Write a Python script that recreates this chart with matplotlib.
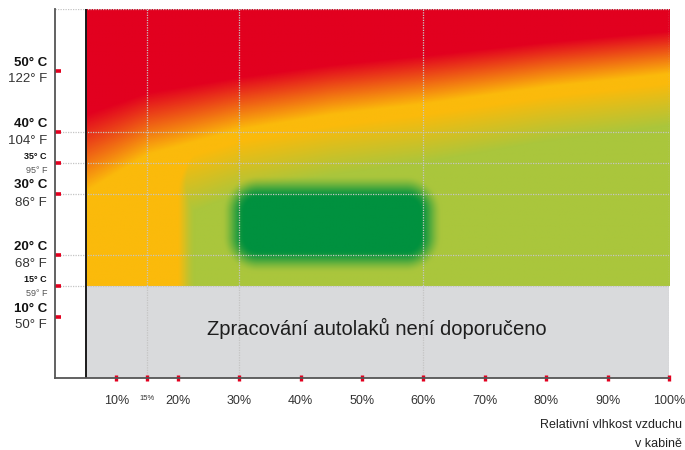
import numpy as np
import matplotlib
matplotlib.use('Agg')
import matplotlib.pyplot as plt
from matplotlib.colors import LinearSegmentedColormap, to_rgb

plt.rcParams['font.family'] = ['Liberation Sans', 'DejaVu Sans']

# --- data ---
temp_c = [10, 15, 20, 30, 35, 40, 50]
temp_f = [50, 59, 68, 86, 95, 104, 122]
small_temps = [15, 35]
rh_ticks = [10, 15, 20, 30, 40, 50, 60, 70, 80, 90, 100]
small_rh = [15]
grid_temps = [15, 20, 30, 35, 40, 60]
grid_rh = [15, 30, 60, 100]

rh_start = 5          # zacatek barevneho pole
min_temp = 15         # pod touto teplotou nedoporuceno
dry_limit = 21        # pod touto vlhkosti zluta zona
ideal_rh = (30, 60)
ideal_temp = (20, 30)

# hranice cervene (cista cervena nad) a zelene (cista zelena pod) zony
curve_rh = [5, 15, 30, 45, 60, 80, 100]
red_temp = [43, 46.5, 49, 51, 52.5, 54.7, 56.5]
green_temp = [15, 24, 30, 33, 35, 38.5, 41]
# horni okraj zelene zony u zluteho rohu
edge_rh = [21, 35, 60, 100]
edge_temp = [37, 40, 44, 47]

c_red = '#E2001F'
c_yellow = '#FBBA0B'
c_green = '#AAC63C'
c_dark = '#00913F'
c_gray = '#D9DADC'


def smooth(v):
    v = np.clip(v, 0, 1)
    return v * v * (3 - 2 * v)


# --- barevne pole ---
xs = np.linspace(rh_start, 100, 600)
ts = np.linspace(min_temp, 60, 300)
X, T = np.meshgrid(xs, ts)

tr = np.interp(X, curve_rh, red_temp)
tg = np.interp(X, curve_rh, green_temp)
h2 = 2 * np.clip((T - tg) / (tr - tg), 0, 1)

# zelena ctvrtrovina se zaoblenym rohem (vlevo nahore zluta)
R = 7
u = X - dry_limit
v = np.interp(X, edge_rh, edge_temp) - T
qx, qy = R - u, R - v
sdq = np.hypot(np.maximum(qx, 0), np.maximum(qy, 0)) + np.minimum(np.maximum(qx, qy), 0) - R
h1 = smooth((sdq + 1.8) / 3.6)
heat = np.maximum(h1, h2) / 2

cmap = LinearSegmentedColormap.from_list('zone', [
    (0, c_green), (0.45, c_yellow), (0.55, c_yellow), (1, c_red)])
rgb = cmap(heat)[..., :3]

# rozmazany obdelnik idealni zony
cx = sum(ideal_rh) / 2
cy = sum(ideal_temp) / 2
hx = (ideal_rh[1] - ideal_rh[0]) / 2
hy = (ideal_temp[1] - ideal_temp[0]) / 2
r = 3
qx = np.abs(X - cx) - hx + r
qy = np.abs(T - cy) - hy + r
sd = np.hypot(np.maximum(qx, 0), np.maximum(qy, 0)) + np.minimum(np.maximum(qx, qy), 0) - r
a = smooth((3.0 - sd) / 3.8)
rgb = rgb * (1 - a[..., None]) + np.array(to_rgb(c_dark)) * a[..., None]

# --- graf ---
fig = plt.figure(figsize=(6.85, 4.5), dpi=100)
ax = fig.add_axes([55 / 685, 1 - 378 / 450, 614 / 685, 369 / 450])
ax.set_xlim(0, 100)
ax.set_ylim(0, 60)

ax.imshow(rgb, extent=(rh_start, 100, min_temp, 60), origin='lower',
          aspect='auto', interpolation='bilinear', zorder=0.5)
ax.fill_between([rh_start, 100], 0, min_temp, color=c_gray, lw=0, zorder=0.6)

for t in grid_temps:
    ax.axhline(t, color='#C4C4C4', lw=0.9, ls=(0, (1, 1)), zorder=1.2)
for v in grid_rh:
    ax.axvline(v, color='#C4C4C4', lw=0.9, ls=(0, (1, 1)), zorder=1.2)
ax.axvline(rh_start, color='#1A1A1A', lw=1.4, zorder=1.5)

ax.text(52.4, 8.1, 'Zpracování autolaků není doporučeno', ha='center', va='center',
        fontsize=14.5, color='#1E1E1E', zorder=4)

for sp in ['top', 'right']:
    ax.spines[sp].set_visible(False)
for sp in ['left', 'bottom']:
    ax.spines[sp].set_color('#555555')
    ax.spines[sp].set_linewidth(1.3)

ax.set_yticks(temp_c)
ax.tick_params(axis='y', direction='in', length=4.5, width=2.6, color=c_red, labelleft=False)
ax.set_xticks(rh_ticks, [f'{v}%' for v in rh_ticks])
ax.tick_params(axis='x', direction='inout', length=4.2, width=2.4, color=c_red,
               pad=10, labelsize=9, labelcolor='#333333')
for lab, v in zip(ax.get_xticklabels(), rh_ticks):
    if v in small_rh:
        lab.set_fontsize(5.5)

# popisky teplot (C nad ryskou, F pod ni)
for c, f in zip(temp_c, temp_f):
    small = c in small_temps
    fs = 6.5 if small else 9.5
    ax.annotate(f'{c}° C', xy=(0, c), xycoords=('axes fraction', 'data'),
                xytext=(-8, 2), textcoords='offset pixels', ha='right', va='bottom',
                fontsize=fs, fontweight='bold', color='#111111')
    ax.annotate(f'{f}° F', xy=(0, c), xycoords=('axes fraction', 'data'),
                xytext=(-8, -3), textcoords='offset pixels', ha='right', va='top',
                fontsize=fs, color='#555555' if small else '#333333')

fig.text(682 / 685, 1 - 425 / 450, 'Relativní vlhkost vzduchu', ha='right', va='center',
         fontsize=9, color='#222222')
fig.text(682 / 685, 1 - 444 / 450, 'v kabině', ha='right', va='center',
         fontsize=9, color='#222222')

fig.savefig('out.png', dpi=100)
